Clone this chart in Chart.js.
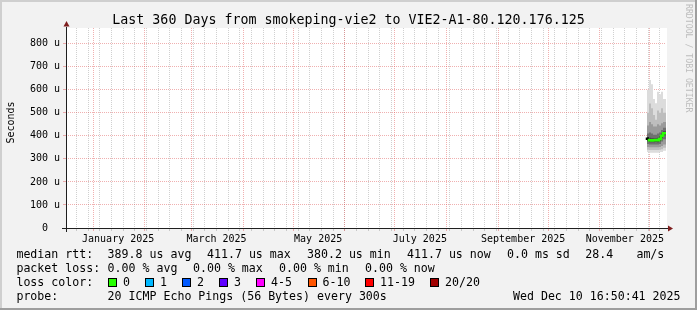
<!DOCTYPE html>
<html>
<head>
<meta charset="utf-8">
<script src="https://cdn.jsdelivr.net/npm/chart.js@4/dist/chart.umd.min.js"></script>
<style>
  html, body { margin: 0; padding: 0; background: #f2f2f2; }
  canvas { display: block; }
</style>
</head>
<body>
<canvas id="graph" width="697" height="310"></canvas>
<script>
// time window: 360 days ending Wed Dec 10 16:50:41 2025 (local time)
var START = Date.UTC(2024, 11, 15, 16, 50, 41);
var DAYS = 360;
var Y_MAX = 868;          // microseconds at top of plot
var Y_STEP = 50;          // minor grid step, labels every 100

var MONTHS = ["2025-01-01", "2025-02-01", "2025-03-01", "2025-04-01", "2025-05-01", "2025-06-01",
              "2025-07-01", "2025-08-01", "2025-09-01", "2025-10-01", "2025-11-01", "2025-12-01"];
var FIRST_WEEK = "2024-12-22";
var X_LABELS = ["January 2025", "March 2025", "May 2025", "July 2025", "September 2025", "November 2025"];
var X_LABEL_DATES = ["2025-01-16", "2025-03-16", "2025-05-16", "2025-07-16", "2025-09-16", "2025-11-16"];

// smoke buckets (days since start) and values in us
var SMOKE_DAYS = [348.6, 349.8, 351.0, 352.2, 353.4, 354.6, 355.8, 357.0, 358.2, 359.4, 360.0];
var MEDIAN     = [393, 387, 381, 380.2, 381, 382, 381, 386, 400, 411.7, 411.7];
var L1_LO = [346, 330, 327, 327, 327, 327, 327, 330, 330, 335, 335];
var L1_HI = [573, 600, 642, 624, 560, 541, 591, 580, 591, 560, 560];
var L2_LO = [355, 340, 338, 338, 338, 338, 338, 340, 342, 348, 348];
var L2_HI = [480, 500, 540, 520, 490, 470, 510, 500, 520, 500, 500];
var L3_LO = [365, 352, 350, 350, 350, 350, 350, 352, 356, 362, 362];
var L3_HI = [440, 445, 460, 450, 440, 440, 450, 445, 455, 460, 460];
var L4_LO = [375, 365, 362, 362, 362, 362, 362, 365, 375, 385, 385];
var L4_HI = [415, 410, 415, 410, 405, 405, 410, 415, 425, 435, 435];
var L5_LO = [385, 377, 372, 372, 372, 373, 372, 376, 390, 402, 402];
var L5_HI = [400, 395, 392, 390, 390, 390, 392, 398, 410, 420, 420];

var TITLE = "Last 360 Days from smokeping-vie2 to VIE2-A1-80.120.176.125";
var MEDIAN_STATS = ["389.8 us avg", "411.7 us max", "380.2 us min", "411.7 us now", "0.0 ms sd", "28.4", "am/s"];
var LOSS_STATS = ["0.00 % avg", "0.00 % max", "0.00 % min", "0.00 % now"];
var LOSS_LABELS = ["0", "1", "2", "3", "4-5", "6-10", "11-19", "20/20"];
var LOSS_COLORS = ["#26ff00", "#00b8ff", "#0059ff", "#5e00ff", "#ff00ff", "#ff5500", "#ff0000", "#a10000"];
var PROBE = "20 ICMP Echo Pings (56 Bytes) every 300s";
var STAMP = "Wed Dec 10 16:50:41 2025";

var MONO = "DejaVu Sans Mono";
var GRID_MINOR = "rgba(143,143,143,0.42)";
var GRID_MAJOR = "rgba(222,79,79,0.45)";

function dayOffset(iso) {
  var p = iso.split("-");
  return (Date.UTC(+p[0], +p[1] - 1, +p[2]) - START) / 864e5;
}

// x ticks: weekly (minor), month starts (major), label positions (no line)
var xTicks = [];
for (var w = dayOffset(FIRST_WEEK); w < DAYS; w += 7) { xTicks.push({ value: w, kind: "minor", label: "" }); }
MONTHS.forEach(function (m) { xTicks.push({ value: dayOffset(m), kind: "major", label: "" }); });
X_LABEL_DATES.forEach(function (d, i) { xTicks.push({ value: dayOffset(d), kind: "label", label: X_LABELS[i] }); });
xTicks.sort(function (a, b) { return a.value - b.value; });

var yTicks = [];
for (var v = 0; v < Y_MAX; v += Y_STEP) { yTicks.push(v); }

function points(values) {
  return SMOKE_DAYS.map(function (d, i) { return { x: d, y: values[i] }; });
}

function xGridColor(ctx) {
  var t = xTicks[ctx.index];
  if (!t || t.kind === "label") { return "rgba(0,0,0,0)"; }
  return t.kind === "major" ? GRID_MAJOR : GRID_MINOR;
}

// innermost band first so the outer bands are drawn underneath
var bands = [
  { lo: L5_LO, hi: L5_HI, color: "#444444" },
  { lo: L4_LO, hi: L4_HI, color: "#707070" },
  { lo: L3_LO, hi: L3_HI, color: "#9a9a9a" },
  { lo: L2_LO, hi: L2_HI, color: "#bdbdbd" },
  { lo: L1_LO, hi: L1_HI, color: "#dcdcdc" }
];

var datasets = [{
  data: points(MEDIAN),
  borderColor: LOSS_COLORS[0],
  borderWidth: 2.5,
  stepped: "after",
  fill: false,
  segment: {
    borderColor: function (c) { return c.p0DataIndex === 0 ? "#000000" : LOSS_COLORS[0]; }
  }
}];
bands.forEach(function (b) {
  datasets.push({ data: points(b.lo), borderWidth: 0, borderColor: "rgba(0,0,0,0)", stepped: "after", fill: false });
  datasets.push({ data: points(b.hi), borderWidth: 0, borderColor: "rgba(0,0,0,0)", stepped: "after",
                  fill: "-1", backgroundColor: b.color });
});

var frame = {
  id: "frame",
  beforeDraw: function (chart) {
    var ctx = chart.ctx, a = chart.chartArea, W = chart.width, H = chart.height;
    ctx.save();
    ctx.fillStyle = "#f2f2f2";
    ctx.fillRect(0, 0, W, H);
    ctx.fillStyle = "#cfcfcf";
    ctx.fillRect(0, 0, W, 2);
    ctx.fillRect(0, 0, 2, H);
    ctx.fillStyle = "#9e9e9e";
    ctx.fillRect(0, H - 2, W, 2);
    ctx.fillRect(W - 2, 0, 2, H);
    ctx.fillStyle = "#ffffff";
    ctx.fillRect(a.left, a.top, a.right - a.left + 1, a.bottom - a.top);
    ctx.restore();
  },
  afterDraw: function (chart) {
    var ctx = chart.ctx, a = chart.chartArea;
    ctx.save();

    // axes with arrows
    ctx.strokeStyle = "#1f1f1f";
    ctx.lineWidth = 1;
    ctx.beginPath();
    ctx.moveTo(a.left - 4, a.bottom + 0.5);
    ctx.lineTo(a.right + 2, a.bottom + 0.5);
    ctx.moveTo(a.left + 0.5, a.bottom + 4);
    ctx.lineTo(a.left + 0.5, a.top - 1);
    ctx.stroke();
    ctx.fillStyle = "#7f1f1f";
    ctx.beginPath();
    ctx.moveTo(a.right + 7, a.bottom + 0.5);
    ctx.lineTo(a.right + 2, a.bottom - 2.5);
    ctx.lineTo(a.right + 2, a.bottom + 3.5);
    ctx.closePath();
    ctx.fill();
    ctx.beginPath();
    ctx.moveTo(a.left + 0.5, a.top - 7);
    ctx.lineTo(a.left - 2.5, a.top - 1.5);
    ctx.lineTo(a.left + 3.5, a.top - 1.5);
    ctx.closePath();
    ctx.fill();

    // title
    ctx.fillStyle = "#000";
    ctx.font = "13.3px '" + MONO + "'";
    ctx.textAlign = "center";
    ctx.textBaseline = "alphabetic";
    ctx.fillText(TITLE, 348.5, 24);

    // vertical unit label
    ctx.font = "10px '" + MONO + "'";
    ctx.save();
    ctx.translate(11, 122.5);
    ctx.rotate(-Math.PI / 2);
    ctx.textBaseline = "middle";
    ctx.fillText("Seconds", 0, 0);
    ctx.restore();

    // watermark
    ctx.save();
    ctx.fillStyle = "#bdbdbd";
    ctx.font = "8.2px '" + MONO + "'";
    ctx.translate(688, 4);
    ctx.rotate(Math.PI / 2);
    ctx.textAlign = "left";
    ctx.textBaseline = "middle";
    ctx.fillText("RRDTOOL / TOBI OETIKER", 0, 0);
    ctx.restore();

    // legend
    ctx.font = "11.6px '" + MONO + "'";
    ctx.textAlign = "left";
    ctx.textBaseline = "alphabetic";
    ctx.fillStyle = "#000";
    var medX = [107.6, 207, 307, 407, 507, 585.3, 636.4];
    ctx.fillText("median rtt:", 16.4, 258);
    MEDIAN_STATS.forEach(function (s, i) { ctx.fillText(s, medX[i], 258); });
    var lossX = [107.6, 193, 279, 365];
    ctx.fillText("packet loss:", 16.4, 272);
    LOSS_STATS.forEach(function (s, i) { ctx.fillText(s, lossX[i], 272); });
    var boxX = [108, 145, 182, 219, 256, 307.5, 365, 430];
    ctx.fillText("loss color:", 16.4, 286);
    LOSS_LABELS.forEach(function (s, i) {
      ctx.fillStyle = "#000";
      ctx.fillRect(Math.round(boxX[i]), 278, 9, 9);
      ctx.fillStyle = LOSS_COLORS[i];
      ctx.fillRect(Math.round(boxX[i]) + 1, 279, 7, 7);
      ctx.fillStyle = "#000";
      ctx.fillText(s, boxX[i] + 15, 286);
    });
    ctx.fillText("probe:", 16.4, 300);
    ctx.fillText(PROBE, 107.6, 300);
    ctx.textAlign = "right";
    ctx.fillText(STAMP, 680.5, 300);

    ctx.restore();
  }
};

new Chart(document.getElementById("graph"), {
  type: "line",
  data: { datasets: datasets },
  options: {
    responsive: false,
    animation: false,
    devicePixelRatio: 1,
    layout: { padding: { top: 28, right: 31, left: 0, bottom: 0 } },
    elements: { point: { radius: 0 }, line: { tension: 0 } },
    plugins: { legend: { display: false }, tooltip: { enabled: false }, title: { display: false } },
    scales: {
      x: {
        type: "linear",
        min: 0,
        max: DAYS,
        afterBuildTicks: function (s) { s.ticks = xTicks.map(function (t) { return { value: t.value }; }); },
        afterFit: function (s) { s.height = 82; },
        grid: { color: xGridColor, tickColor: xGridColor, tickLength: 3, lineWidth: 1 },
        border: { display: false, dash: [1, 1] },
        ticks: {
          autoSkip: false, maxRotation: 0, minRotation: 0, padding: 2,
          color: "#000", font: { family: MONO, size: 10 },
          callback: function (v, i) { return xTicks[i] ? xTicks[i].label : ""; }
        }
      },
      y: {
        min: 0,
        max: Y_MAX,
        afterBuildTicks: function (s) { s.ticks = yTicks.map(function (t) { return { value: t }; }); },
        afterFit: function (s) { s.width = 66; },
        grid: {
          color: function (c) { return c.tick && c.tick.value % 100 === 0 ? GRID_MAJOR : GRID_MINOR; },
          tickColor: function (c) { return c.tick && c.tick.value % 100 === 0 ? GRID_MAJOR : "rgba(0,0,0,0)"; },
          tickLength: 3, lineWidth: 1
        },
        border: { display: false, dash: [1, 1] },
        ticks: {
          padding: 3, color: "#000", font: { family: MONO, size: 10 },
          callback: function (v) {
            if (v % 100 !== 0) { return ""; }
            return v === 0 ? "0  " : v + " u";
          }
        }
      }
    }
  },
  plugins: [frame]
});
</script>
</body>
</html>
